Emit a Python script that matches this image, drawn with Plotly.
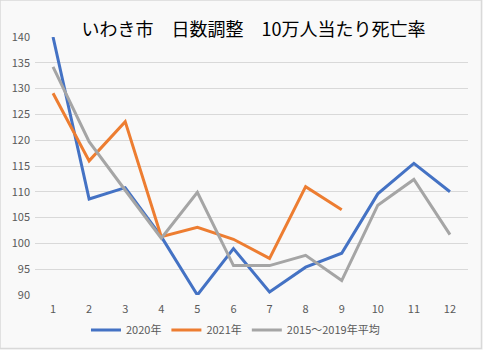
import plotly.graph_objects as go

months = list(range(1, 13))
y2020 = [140.0, 108.6, 110.8, 101.3, 90.0, 99.0, 90.6, 95.4, 98.1, 109.6, 115.5, 110.0]
y2021 = [129.1, 116.0, 123.6, 101.3, 103.1, 100.8, 97.1, 111.0, 106.5]
yavg = [134.2, 119.7, 110.3, 101.0, 109.9, 95.7, 95.7, 97.7, 92.8, 107.4, 112.4, 101.7]
series_names = ["2020年", "2021年", "2015～2019年平均"]
colors = ["#4472C4", "#ED7D31", "#A5A5A5"]
yticks = [90, 95, 100, 105, 110, 115, 120, 125, 130, 135, 140]
title_text = "いわき市　日数調整　10万人当たり死亡率"

font_family = "Noto Sans CJK JP, Noto Sans, sans-serif"

fig = go.Figure()
for name, ys, c in zip(series_names, [y2020, y2021, yavg], colors):
    fig.add_trace(go.Scatter(
        x=months[:len(ys)], y=ys, mode="lines", name=name,
        line=dict(color=c, width=3), cliponaxis=False,
    ))

fig.update_layout(
    width=483, height=350,
    margin=dict(l=35, r=15, t=37, b=55, autoexpand=False),
    paper_bgcolor="#F9F9F9", plot_bgcolor="#F9F9F9",
    font=dict(family=font_family, size=11, color="#595959"),
    title=dict(text=title_text, x=0.525, xanchor="center", y=1 - 30 / 350, yanchor="middle",
               font=dict(size=18, color="#000000", family=font_family)),
    showlegend=True,
    legend=dict(orientation="h", x=0.463, xanchor="center", yref="container",
                y=1 - 330 / 350, yanchor="middle",
                font=dict(size=11, color="#595959"), bgcolor="rgba(0,0,0,0)",
                itemwidth=30, tracegroupgap=0),
    shapes=[dict(type="rect", xref="paper", yref="paper", x0=-35/433, x1=1+15/433 - 1.5/433,
                 y0=-55/258 + 1.5/258, y1=1 + 37/258, line=dict(color="#D9D9D9", width=1.5),
                 fillcolor="rgba(0,0,0,0)", layer="below")],
)
fig.update_xaxes(range=[0.5, 12.5], tickmode="array", tickvals=months,
                 ticktext=[str(m) for m in months], showgrid=False, zeroline=False,
                 showline=False, ticks="", ticklabelstandoff=6, automargin=False)
fig.update_yaxes(range=[90, 140], tickmode="array", tickvals=yticks,
                 showgrid=True, gridcolor="#D9D9D9", gridwidth=1, zeroline=False,
                 showline=False, ticks="", ticklabelstandoff=4, automargin=False)

fig.write_html("out.html")
